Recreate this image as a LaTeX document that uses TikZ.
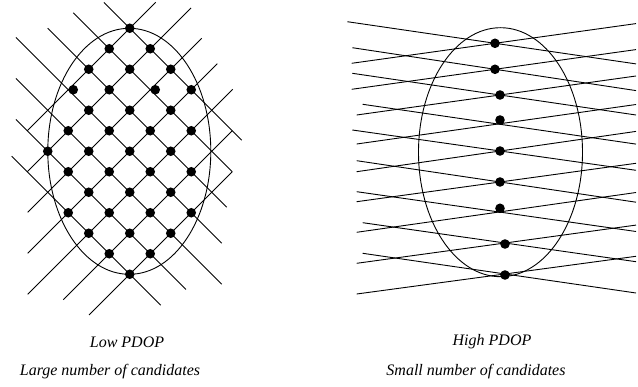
\documentclass[tikz,border=0pt]{standalone}
\usepackage{fontspec}
\setmainfont{Liberation Serif}
\begin{document}
\begin{tikzpicture}[x=1pt,y=-1pt,line width=0.9pt,
  dot/.style={circle,fill=black,draw=none,inner sep=0pt,minimum size=9.6pt},
  lbl/.style={font=\fontsize{16}{19}\selectfont\itshape,inner sep=0pt},
  ray/.style={line width=0.9pt}]
\useasboundingbox (0,0) rectangle (638,387);
% ---------- left figure: two families of diagonal lines ----------
\foreach \xa/\ya/\xb/\yb in {
  104/2.5/241.7/140.2,
  73.3/12.8/232.25/171.75,
  47.7/28.2/226.7/207.2,
  16/37.5/221.7/243.2,
  16/78.5/221.7/284.2,
  16/119.5/186/289.5,
  11.7/156.2/160.7/305.2}
  \draw[ray] (\xa,\ya) -- (\xb,\yb);
\foreach \xa/\ya/\xb/\yb in {
  27.25/130.75/155.7/2.3,
  27.25/171.75/191/8,
  27.7/212.3/201.7/38.3,
  27.7/253.3/217.3/63.7,
  27.7/294.3/232.7/89.3,
  63.3/299.7/232.25/130.75,
  89/315/232.25/171.75}
  \draw[ray] (\xa,\ya) -- (\xb,\yb);
\draw (129.3,151.3) ellipse [x radius=81.5, y radius=123];
\foreach \i/\j/\s [count=\n] in {
  0/-6/0, -1/-5/0, 1/-5/0, -2/-4/0, 0/-4/0, 2/-4/0,
  -3/-3/5, -1/-3/0, 1/-3/5, 3/-3/0,
  -2/-2/0, 0/-2/0, 2/-2/0,
  -3/-1/0, -1/-1/0, 1/-1/0, 3/-1/0,
  -4/0/0, -2/0/0, 0/0/0, 2/0/0,
  -3/1/0, -1/1/0, 1/1/0, 3/1/0,
  -2/2/0, 0/2/0, 2/2/0,
  -3/3/0, -1/3/0, 1/3/0, 3/3/0,
  -2/4/0, 0/4/0, 2/4/0,
  -1/5/0, 1/5/0, 0/6/0}
  \node[dot] (l\n) at ({129.75+20.5*\i+\s},{151.25+20.5*\j}) {};
% ---------- right figure: nearly horizontal line pairs ----------
\foreach \xa/\ya/\xb/\yb in {
  347.3/21.7/636/63.9,   351.7/63.3/636/23.6,
  352.3/47.7/636/90.6,   351.7/89.3/636/49.6,
  352.3/73.3/636/115,    356.7/115/636/76,
  362.7/104.3/636/144.1, 356.7/144/636/104.5,
  352.3/130/636/170.3,   356.7/171.7/636/131.4,
  356.7/160.7/636/202.2, 356.7/201.7/636/163.3,
  356.7/191.7/636/231.5, 356.7/232.3/636/192.5,
  362.7/222.7/636/261.7, 356.7/263.3/636/225.1,
  362.7/253.3/636/293,   356.7/294/636/256.3}
  \draw[ray] (\xa,\ya) -- (\xb,\yb);
\draw (500.5,152.2) ellipse [x radius=82, y radius=124.5];
\foreach \x/\y [count=\n] in {
  495/43.3, 495/69.3, 500/95, 500/120, 500/151,
  500/182, 500/208.3, 505/244, 505/275}
  \node[dot] (r\n) at (\x,\y) {};
% ---------- captions ----------
\node[lbl] (low) at (127,342) {Low PDOP};
\node[lbl] (large) at (110,372) {Large number of candidates};
\node[lbl] (high) at (492,342) {High PDOP};
\node[lbl] (small) at (476,372) {Small number of candidates};
\end{tikzpicture}
\end{document}
